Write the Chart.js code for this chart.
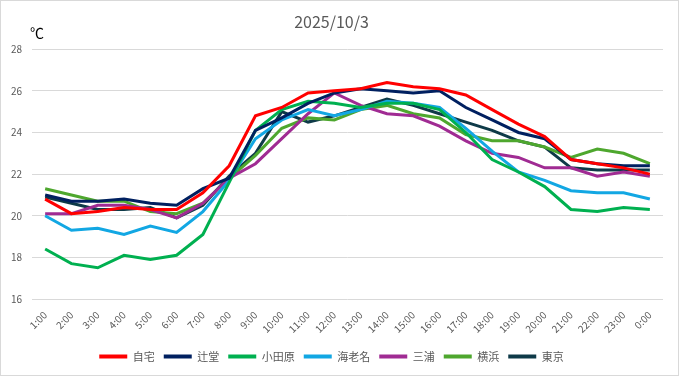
<!DOCTYPE html>
<html>
<head>
<meta charset="utf-8">
<script src="https://cdn.jsdelivr.net/npm/chart.js@4"></script>
<style>
  html, body { margin: 0; padding: 0; background: #fff; }
  #wrap { width: 679px; height: 376px; position: relative; }
</style>
</head>
<body>
<div id="wrap"><canvas id="c" width="679" height="376"></canvas></div>
<script>
const titleText = "2025/10/3";
const unitText = "℃";
const hours = ["1:00","2:00","3:00","4:00","5:00","6:00","7:00","8:00","9:00","10:00","11:00","12:00",
               "13:00","14:00","15:00","16:00","17:00","18:00","19:00","20:00","21:00","22:00","23:00","0:00"];
const yTicks = [16, 18, 20, 22, 24, 26, 28];

const seriesNames = ["自宅","辻堂","小田原","海老名","三浦","横浜","東京"];
const jitaku   = [20.8,20.1,20.2,20.4,20.3,20.3,21.1,22.4,24.8,25.2,25.9,26.0,26.1,26.4,26.2,26.1,25.8,25.1,24.4,23.8,22.7,22.5,22.3,22.0];
const tsujido  = [21.0,20.7,20.7,20.8,20.6,20.5,21.3,21.8,24.1,24.7,25.4,25.9,26.1,26.0,25.9,26.0,25.2,24.6,24.0,23.7,22.7,22.5,22.4,22.4];
const odawara  = [18.4,17.7,17.5,18.1,17.9,18.1,19.1,21.6,24.1,25.1,25.5,25.4,25.2,25.4,25.4,25.1,24.0,22.7,22.1,21.4,20.3,20.2,20.4,20.3];
const ebina    = [20.0,19.3,19.4,19.1,19.5,19.2,20.2,21.7,23.7,24.6,25.1,24.8,25.1,25.5,25.4,25.2,24.2,23.1,22.1,21.7,21.2,21.1,21.1,20.8];
const miura    = [20.1,20.1,20.5,20.5,20.3,19.9,20.6,21.8,22.5,23.7,24.9,25.9,25.3,24.9,24.8,24.3,23.6,23.0,22.8,22.3,22.3,21.9,22.1,21.9];
const yokohama = [21.3,21.0,20.7,20.7,20.2,20.1,20.6,21.8,22.9,24.2,24.7,24.6,25.1,25.3,24.9,24.7,23.9,23.6,23.6,23.3,22.8,23.2,23.0,22.5];
const tokyo    = [20.9,20.6,20.3,20.3,20.4,19.9,20.5,21.9,23.0,25.0,24.5,24.8,25.2,25.6,25.3,24.9,24.5,24.1,23.6,23.3,22.3,22.2,22.2,22.2];
const seriesValues = [jitaku, tsujido, odawara, ebina, miura, yokohama, tokyo];
const seriesColors = ["#FF0000","#002060","#00B050","#12A7E3","#A02B93","#4EA72E","#0E3A48"];

const FONT = "'Noto Sans CJK JP', 'Noto Sans', sans-serif";
const GRAY = "#595959";

const frame = {
  id: 'frame',
  beforeDraw(chart) {
    const ctx = chart.ctx;
    ctx.save();
    ctx.fillStyle = '#fff';
    ctx.fillRect(0, 0, chart.width, chart.height);
    ctx.restore();
  },
  afterDraw(chart) {
    const ctx = chart.ctx;
    ctx.save();
    ctx.strokeStyle = '#d9d9d9';
    ctx.lineWidth = 1;
    ctx.strokeRect(0.5, 0.5, chart.width - 1, chart.height - 1);
    ctx.fillStyle = '#000';
    ctx.font = "14px " + FONT;
    ctx.textAlign = 'left';
    ctx.textBaseline = 'middle';
    ctx.fillText(unitText, chart.chartArea.left - 2, 33);
    ctx.restore();
  }
};

new Chart(document.getElementById('c'), {
  type: 'line',
  data: {
    labels: hours,
    datasets: seriesNames.map((n, i) => ({
      label: n,
      data: seriesValues[i],
      borderColor: seriesColors[i],
      backgroundColor: seriesColors[i],
      borderWidth: 3,
      pointRadius: 0,
      pointHoverRadius: 0,
      tension: 0,
      fill: false
    }))
  },
  options: {
    responsive: false,
    animation: false,
    events: [],
    layout: { padding: { left: 0, right: 16, top: 0, bottom: 4 } },
    scales: {
      x: {
        offset: true,
        grid: { display: false },
        border: { display: false },
        ticks: { color: GRAY, font: { family: FONT, size: 10 }, minRotation: 45, maxRotation: 45, padding: 2, autoSkip: false },
        afterFit(s) { s.height = 43; }
      },
      y: {
        min: 16, max: 28,
        afterBuildTicks(s) { s.ticks = yTicks.map(v => ({ value: v })); },
        grid: { color: '#d9d9d9', lineWidth: 1, drawTicks: false },
        border: { display: false },
        ticks: { color: GRAY, font: { family: FONT, size: 10 }, padding: 10 },
        afterFit(s) { s.width = 32; }
      }
    },
    plugins: {
      title: {
        display: true,
        text: titleText,
        color: GRAY,
        font: { family: FONT, size: 16, weight: 'normal' },
        padding: { top: 12, bottom: 18 }
      },
      legend: {
        position: 'bottom',
        labels: {
          color: GRAY,
          font: { family: FONT, size: 11 },
          boxWidth: 28,
          boxHeight: 4,
          padding: 9,
          generateLabels(chart) {
            return chart.data.datasets.map((d, i) => ({
              text: d.label,
              fillStyle: d.borderColor,
              strokeStyle: d.borderColor,
              lineWidth: 0,
              fontColor: GRAY,
              hidden: false,
              datasetIndex: i
            }));
          }
        }
      },
      tooltip: { enabled: false }
    }
  },
  plugins: [frame]
});
</script>
</body>
</html>
